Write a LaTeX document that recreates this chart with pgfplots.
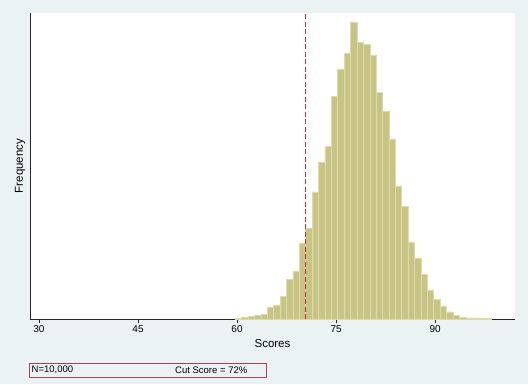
\documentclass[border=0pt]{standalone}
\usepackage{pgfplots}
\pgfplotsset{compat=1.18}
\usepackage{pgfplotstable}
\usepackage{fontspec}
\setmainfont{Liberation Sans}
\definecolor{bgc}{RGB}{234,242,243}
\definecolor{barfill}{RGB}{200,196,134}
\definecolor{barline}{RGB}{222,218,170}
\definecolor{cutc}{RGB}{205,40,50}
\definecolor{boxc}{RGB}{185,60,85}
\pgfplotstableread{
x y
59.74 2
60.71 4
61.68 6
62.65 10
63.62 13
64.59 31
65.56 37
66.53 60
67.50 106
68.47 128
69.44 202
70.41 243
71.38 340
72.35 418
73.32 461
74.29 594
75.26 668
76.23 710
77.20 794
78.17 739
79.14 735
80.11 706
81.08 605
82.05 554
83.02 480
83.98 356
84.95 302
85.92 206
86.89 163
87.86 120
88.83 78
89.80 53
90.77 35
91.74 19
92.71 9
93.68 5
94.65 3
95.62 3
96.59 1
97.56 2
98.53 2
}\histdata
\pgfplotstableread{
x y
70.41 0
70.41 818
}\cutdata
\begin{document}
\begin{tikzpicture}[x=1pt,y=1pt]
\fill[bgc] (0,0) rectangle (528,384);
\useasboundingbox (0,0) rectangle (528,384);
\begin{axis}[
  at={(30pt,65pt)}, anchor=south west,
  scale only axis, width=485pt, height=306pt,
  xmin=28.64, xmax=102.1, ymin=0, ymax=818,
  axis x line=bottom, axis y line=left,
  axis line style={-, line width=0.9pt, color=black!85},
  axis background/.style={fill=white},
  xtick={30,45,60,75,90}, ytick=\empty,
  tick align=outside, major tick length=4pt,
  tick style={line width=0.6pt, color=black!85},
  /pgf/number format/assume math mode=true,
  xticklabel style={font=\fontsize{10}{11}\selectfont, yshift=1pt},
  xlabel={Scores}, ylabel={Frequency},
  label style={font=\fontsize{11.5}{13}\selectfont},
  xlabel style={at={(axis description cs:0.5,-0.0817)}, anchor=center},
  ylabel style={at={(axis description cs:-0.0206,0.5)}, anchor=center},
  clip=false,
]
\addplot[ybar interval, fill=barfill, draw=barline, line width=0.6pt] table {\histdata};
\addplot[draw=cutc, line width=1.4pt, dash pattern=on 5pt off 2.5pt, line cap=butt, mark=none] table {\cutdata};
\end{axis}
\draw[boxc, line width=0.8pt] (29.3,7) rectangle (266.7,21);
\node[anchor=west, inner sep=0pt, font=\fontsize{9.5}{10}\selectfont] at (31.5,14.2) {N=10,000};
\node[anchor=west, inner sep=0pt, font=\fontsize{9.5}{10}\selectfont] at (175,14.2) {Cut Score = 72\%};
\end{tikzpicture}
\end{document}
